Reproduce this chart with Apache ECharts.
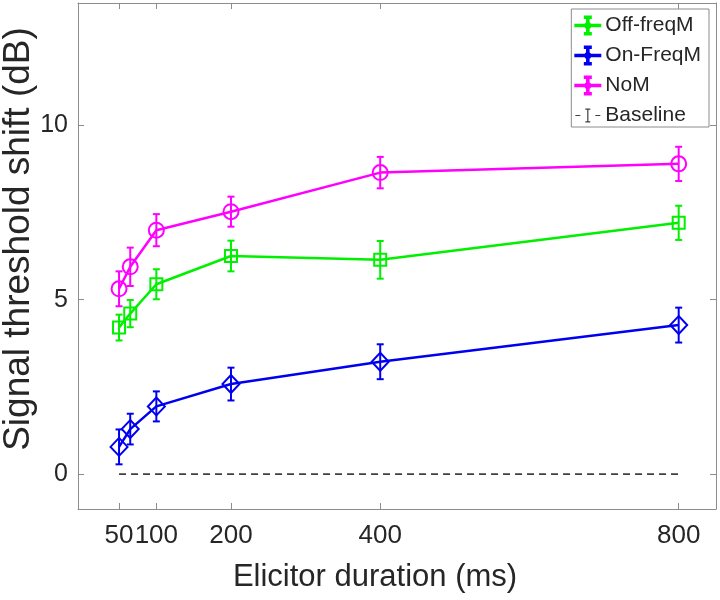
<!DOCTYPE html>
<html>
<head>
<meta charset="UTF-8">
<title></title>
<script src="https://cdn.jsdelivr.net/npm/echarts@6/dist/echarts.min.js"></script>
<style>
  html, body { margin: 0; padding: 0; background: #fff; }
  #main { width: 720px; height: 600px; }
</style>
</head>
<body>
<div id="main"></div>
<script>
// x values (ms)
var durations = [50, 65, 100, 200, 400, 800];
var xTicks = [50, 100, 200, 400, 800];
var yTicks = [0, 5, 10];

// series means and error (dB)
var offFreq = [4.20, 4.60, 5.44, 6.25, 6.14, 7.20];
var offErr  = [0.37, 0.39, 0.43, 0.44, 0.54, 0.49];
var onFreq  = [0.78, 1.29, 1.94, 2.58, 3.22, 4.27];
var onErr   = [0.50, 0.44, 0.43, 0.47, 0.50, 0.50];
var noM     = [5.31, 5.94, 6.99, 7.52, 8.64, 8.89];
var noMErr  = [0.50, 0.55, 0.46, 0.43, 0.45, 0.49];
var baseline = [0, 0, 0, 0, 0, 0];

var font = 'Liberation Sans, Arial, Helvetica, sans-serif';
var txt = '#262626';
var axisGray = '#8c8c8c';

function pairs(vals) {
  return durations.map(function (d, i) { return [d, vals[i]]; });
}
function errData(vals, errs) {
  return durations.map(function (d, i) { return [d, vals[i] - errs[i], vals[i] + errs[i]]; });
}

// error bars drawn through the axis scales
function errRender(color) {
  return function (params, api) {
    var x = api.value(0);
    var top = api.coord([x, api.value(2)]);
    var bot = api.coord([x, api.value(1)]);
    var cap = 3.5;
    var st = { stroke: color, lineWidth: 2, fill: null };
    return {
      type: 'group',
      children: [
        { type: 'line', shape: { x1: top[0], y1: top[1], x2: bot[0], y2: bot[1] }, style: st },
        { type: 'line', shape: { x1: top[0] - cap, y1: top[1], x2: top[0] + cap, y2: top[1] }, style: st },
        { type: 'line', shape: { x1: bot[0] - cap, y1: bot[1], x2: bot[0] + cap, y2: bot[1] }, style: st }
      ]
    };
  };
}

function lineSeries(name, vals, color, symbol, size) {
  return {
    name: name, type: 'line', data: pairs(vals),
    symbol: symbol, symbolSize: size,
    itemStyle: { color: 'rgba(0,0,0,0)', borderColor: color, borderWidth: 2 },
    lineStyle: { color: color, width: 2.5 },
    emphasis: { disabled: true }, z: 3
  };
}
function errSeries(name, vals, errs, color) {
  return {
    name: name, type: 'custom', data: errData(vals, errs),
    renderItem: errRender(color), z: 2, silent: true
  };
}

// legend icons: line + error bar + dot, and dashed baseline
var iconErr = 'path://M0 8.2L25 8.2L25 9.8L0 9.8Z M11.7 0L13.3 0L13.3 18L11.7 18Z M9.5 0L15.5 0L15.5 1.4L9.5 1.4Z M9.5 16.6L15.5 16.6L15.5 18L9.5 18Z M12.5 6.5A2.5 2.5 0 1 1 12.5 11.5A2.5 2.5 0 1 1 12.5 6.5Z';
var iconBase = 'path://M0 8.4L5 8.4L5 9.6L0 9.6Z M20 8.4L25 8.4L25 9.6L20 9.6Z M11.9 2L13.1 2L13.1 16L11.9 16Z M10 2L15 2L15 3.2L10 3.2Z M10 14.8L15 14.8L15 16L10 16Z M0 0L0.01 0L0.01 0.01Z M24.99 17.99L25 17.99L25 18Z';

var colors = { off: '#00f000', on: '#0000f0', nom: '#ff00ff', base: '#404040' };

var chart = echarts.init(document.getElementById('main'));
chart.setOption({
  animation: false,
  backgroundColor: '#fff',
  grid: { left: 78, right: 4, top: 3, bottom: 91, outerBoundsMode: 'none', containLabel: false },
  legend: {
    right: 11, top: 9, orient: 'vertical',
    itemWidth: 25, itemHeight: 18, itemGap: 9,
    padding: [6, 8, 1, 3],
    borderColor: axisGray, borderWidth: 1, backgroundColor: '#fff',
    textStyle: { fontFamily: font, fontSize: 21, color: txt, lineHeight: 20 },
    data: [
      { name: 'Off-freqM', icon: iconErr, itemStyle: { color: colors.off } },
      { name: 'On-FreqM', icon: iconErr, itemStyle: { color: colors.on } },
      { name: 'NoM', icon: iconErr, itemStyle: { color: colors.nom } },
      { name: 'Baseline', icon: iconBase, itemStyle: { color: colors.base } }
    ]
  },
  xAxis: [{
    type: 'value', min: -5, max: 850,
    name: 'Elicitor duration (ms)', nameLocation: 'middle', nameGap: 53, nameMoveOverlap: false,
    nameTextStyle: { fontFamily: font, fontSize: 31, color: txt, padding: [0, 44, 0, 0] },
    axisLine: { show: true, onZero: false, lineStyle: { color: axisGray, width: 1 } },
    axisTick: { show: true, inside: true, length: 6, customValues: xTicks, lineStyle: { color: axisGray } },
    axisLabel: { show: true, customValues: xTicks, margin: 14, fontFamily: font, fontSize: 26, color: txt, hideOverlap: false },
    splitLine: { show: false }
  }, {
    type: 'value', position: 'top', min: -5, max: 850,
    axisLine: { show: true, onZero: false, lineStyle: { color: axisGray, width: 1 } },
    axisTick: { show: true, inside: true, length: 6, customValues: xTicks, lineStyle: { color: axisGray } },
    axisLabel: { show: false },
    splitLine: { show: false }
  }],
  yAxis: [{
    type: 'value', min: -1, max: 13.5,
    name: 'Signal threshold shift (dB)', nameLocation: 'middle', nameGap: 41, nameMoveOverlap: false,
    nameTextStyle: { fontFamily: font, fontSize: 37, color: txt, padding: [0, 0, 0, 34] },
    axisLine: { show: true, onZero: false, lineStyle: { color: axisGray, width: 1 } },
    axisTick: { show: true, inside: true, length: 6, customValues: yTicks, lineStyle: { color: axisGray } },
    axisLabel: { show: true, customValues: yTicks, margin: 10, fontFamily: font, fontSize: 25, color: txt },
    splitLine: { show: false }
  }, {
    type: 'value', position: 'right', min: -1, max: 13.5,
    axisLine: { show: true, onZero: false, lineStyle: { color: axisGray, width: 1 } },
    axisTick: { show: true, inside: true, length: 6, customValues: yTicks, lineStyle: { color: axisGray } },
    axisLabel: { show: false },
    splitLine: { show: false }
  }],
  series: [
    lineSeries('Off-freqM', offFreq, colors.off, 'rect', 12),
    lineSeries('On-FreqM', onFreq, colors.on, 'diamond', [17, 18]),
    lineSeries('NoM', noM, colors.nom, 'circle', 15),
    {
      name: 'Baseline', type: 'line', data: pairs(baseline), symbol: 'none',
      lineStyle: { color: colors.base, width: 1.6, type: [7, 5] },
      itemStyle: { color: colors.base }, emphasis: { disabled: true }, z: 1
    },
    errSeries('Off-freqM', offFreq, offErr, colors.off),
    errSeries('On-FreqM', onFreq, onErr, colors.on),
    errSeries('NoM', noM, noMErr, colors.nom)
  ]
});
</script>
</body>
</html>
